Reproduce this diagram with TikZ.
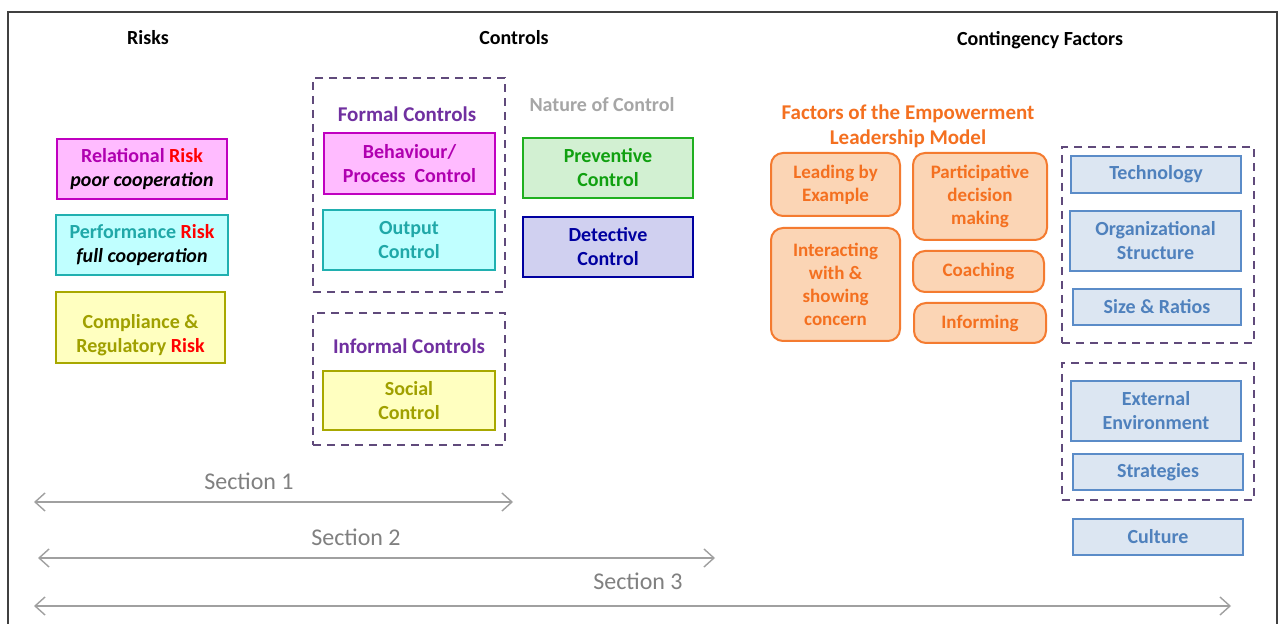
\documentclass[tikz,border=0pt]{standalone}
\usepackage{fontspec}
\setmainfont{Carlito}
\usetikzlibrary{arrows.meta}
\definecolor{magB}{HTML}{C000C0}
\definecolor{magF}{HTML}{FFBBFF}
\definecolor{magT}{HTML}{B000B0}
\definecolor{cyB}{HTML}{20B0B0}
\definecolor{cyF}{HTML}{C0FFFF}
\definecolor{cyT}{HTML}{20A8A8}
\definecolor{olB}{HTML}{A8A800}
\definecolor{olF}{HTML}{FFFFC0}
\definecolor{olT}{HTML}{A0A000}
\definecolor{grB}{HTML}{20B020}
\definecolor{grF}{HTML}{D2F0D2}
\definecolor{grT}{HTML}{10A010}
\definecolor{blB}{HTML}{0000A0}
\definecolor{blF}{HTML}{D0D0F0}
\definecolor{orB}{HTML}{F47B30}
\definecolor{orF}{HTML}{FBD5B5}
\definecolor{orT}{HTML}{F47020}
\definecolor{ltB}{HTML}{5B8CC8}
\definecolor{ltF}{HTML}{DCE6F2}
\definecolor{ltT}{HTML}{4F81BD}
\definecolor{dashC}{HTML}{604A7B}
\definecolor{purT}{HTML}{7030A0}
\definecolor{secG}{HTML}{808080}
\definecolor{arrG}{HTML}{A0A0A0}
\definecolor{natG}{HTML}{A6A6A6}
\tikzset{
  box/.style={draw, line width=1pt, align=center, inner sep=0pt,
    font=\bfseries\fontsize{10}{12}\selectfont},
  obox/.style={draw=orB, fill=orF, text=orT, line width=1pt, rounded corners=6pt,
    align=center, inner sep=0pt, font=\bfseries\fontsize{9.5}{11.5}\selectfont},
  lbox/.style={box, draw=ltB, fill=ltF, text=ltT},
  grp/.style={draw=dashC, line width=1pt, dash pattern=on 4pt off 3pt, inner sep=0pt},
  head/.style={font=\bfseries\fontsize{10}{12}\selectfont},
  gtitle/.style={text=purT, font=\bfseries\fontsize{10.5}{12.5}\selectfont},
  sec/.style={text=secG, font=\fontsize{12}{14}\selectfont},
  secarrow/.style={draw=arrG, line width=0.7pt,
    {Straight Barb[length=5pt,width=9pt]}-{Straight Barb[length=5pt,width=9pt]}}
}
\begin{document}
\begin{tikzpicture}[x=0.5pt,y=-0.5pt]
\useasboundingbox (0,0) rectangle (1280,624);
\fill[white] (0,0) rectangle (1280,624);
\draw[line width=0.8pt, draw=black!75] (8,12) rectangle (1277,660);

% headers
\node[head] (hrisk) at (148,38) {Risks};
\node[head] (hctrl) at (514,38) {Controls};
\node[head] (hcont) at (1040,40) {Contingency Factors};

% risks
\node[box, draw=magB, fill=magF, minimum width=85pt, minimum height=30pt] (rel) at (142,169)
  {\textcolor{magT}{Relational} \textcolor{red}{Risk}\\ \textit{poor cooperation}};
\node[box, draw=cyB, fill=cyF, minimum width=86pt, minimum height=30pt] (perf) at (142,245)
  {\textcolor{cyT}{Performance} \textcolor{red}{Risk}\\ \textit{full cooperation}};
\node[box, draw=olB, fill=olF, minimum width=84.5pt, minimum height=35.5pt] (comp) at (140.5,327.5) {};
\node[text=olT, align=center, font=\bfseries\fontsize{10}{12}\selectfont, inner sep=0pt] (compt) at (140.5,335)
  {Compliance \&\\ Regulatory \textcolor{red}{Risk}};

% control groups
\node[grp, minimum width=96pt, minimum height=107pt] (formal) at (409,185) {};
\node[grp, minimum width=96pt, minimum height=66pt] (informal) at (409,379) {};
\node[gtitle] (tformal) at (407,114) {Formal Controls};
\node[gtitle] (tinformal) at (409,346) {Informal Controls};
\node[box, draw=magB, fill=magF, text=magT, minimum width=85.5pt, minimum height=30.5pt] (beh) at (409.5,163.5)
  {Behaviour/\\ Process~~Control};
\node[box, draw=cyB, fill=cyF, text=cyT, minimum width=86pt, minimum height=30pt] (outc) at (409,240)
  {Output\\ Control};
\node[box, draw=olB, fill=olF, text=olT, minimum width=86pt, minimum height=29.5pt] (soc) at (409,400.5)
  {Social\\ Control};

% nature of control
\node[head, text=natG] (tnat) at (602,105) {Nature of Control};
\node[box, draw=grB, fill=grF, text=grT, minimum width=85pt, minimum height=30pt] (prev) at (608,168)
  {Preventive\\ Control};
\node[box, draw=blB, fill=blF, text=blB, minimum width=85pt, minimum height=30pt] (det) at (608,247)
  {Detective\\ Control};

% empowerment leadership
\node[head, text=orT, align=center, font=\bfseries\fontsize{10.5}{12.5}\selectfont] (tfac) at (908,126)
  {Factors of the Empowerment\\ Leadership Model};
\node[obox, minimum width=64.5pt, minimum height=31.5pt] (lead) at (835.5,184.5) {Leading by\\ Example};
\node[obox, minimum width=67pt, minimum height=43.5pt] (part) at (980,196.5) {Participative\\ decision\\ making};
\node[obox, minimum width=64.5pt, minimum height=56.5pt] (inter) at (835.5,284.5) {Interacting\\ with \&\\ showing\\ concern};
\node[obox, minimum width=65.5pt, minimum height=20.5pt] (coach) at (978.5,271.5) {Coaching};
\node[obox, minimum width=66pt, minimum height=20pt] (inform) at (980,323) {Informing};

% contingency factors
\node[grp, minimum width=96pt, minimum height=98pt] (cg1) at (1158,245) {};
\node[grp, minimum width=96pt, minimum height=68.5pt] (cg2) at (1158,431.5) {};
\node[lbox, minimum width=85pt, minimum height=18.5pt] (tech) at (1156,174.5) {Technology};
\node[lbox, minimum width=85.5pt, minimum height=30pt] (org) at (1155.5,241) {Organizational\\ Structure};
\node[lbox, minimum width=84pt, minimum height=18pt] (size) at (1157,307) {Size \& Ratios};
\node[lbox, minimum width=85pt, minimum height=30pt] (ext) at (1156,411) {External\\ Environment};
\node[lbox, minimum width=85pt, minimum height=18pt] (strat) at (1158,472) {Strategies};
\node[lbox, minimum width=85pt, minimum height=18pt] (cult) at (1158,537) {Culture};

% sections
\coordinate (s1a) at (34,502); \coordinate (s1b) at (513,502);
\coordinate (s2a) at (38,558); \coordinate (s2b) at (715,558);
\coordinate (s3a) at (34,606); \coordinate (s3b) at (1231,606);
\draw[secarrow] (s1a) -- (s1b);
\draw[secarrow] (s2a) -- (s2b);
\draw[secarrow] (s3a) -- (s3b);
\node[sec] (sec1) at (249,481) {Section 1};
\node[sec] (sec2) at (356,537) {Section 2};
\node[sec] (sec3) at (638,581) {Section 3};
\end{tikzpicture}
\end{document}
